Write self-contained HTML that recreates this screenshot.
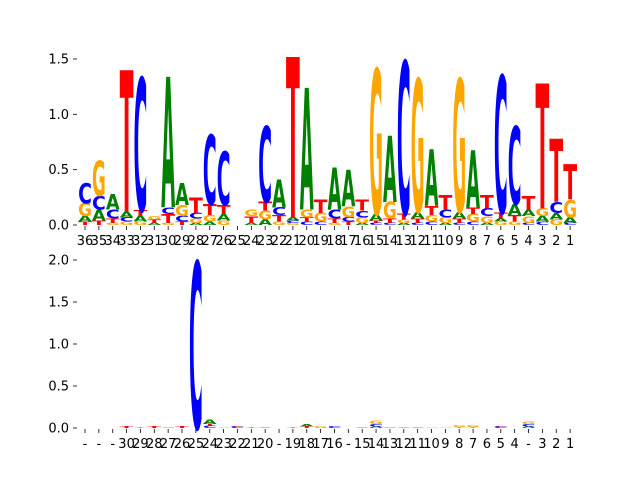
<!DOCTYPE html>
<html><head><meta charset="utf-8"><style>
body{margin:0;background:#fff}
svg text{font-family:"DejaVu Sans","Liberation Sans",sans-serif}
</style></head><body>
<svg id="chart" width="640" height="480" viewBox="0 0 640 480" xmlns="http://www.w3.org/2000/svg"></svg>
<script>
// positions 36..1 (left to right)
const topLabels = ["36","35","34","33","32","31","30","29","28","27","26","25","24","23","22","21","20","19","18","17","16","15","14","13","12","11","10","9","8","7","6","5","4","3","2","1"];
const bottomLabels = ["-","-","-","30","29","28","27","26","25","24","23","22","21","20","-","19","18","17","16","-","15","14","13","12","11","10","9","8","7","6","5","4","-","3","2","1"];
// stacks bottom->top, [letter, bits]
const topStacks = [
 [["T",.03],["A",.05],["G",.12],["C",.18]],
 [["T",.04],["A",.1],["C",.12],["G",.32]],
 [["G",.02],["T",.04],["C",.08],["A",.14]],
 [["G",.03],["C",.04],["A",.05],["T",1.28]],
 [["G",.03],["A",.05],["T",.05],["C",1.2]],
 [["A",.02],["T",.03],["G",.03]],
 [["G",.02],["T",.08],["C",.06],["A",1.18]],
 [["T",.03],["C",.05],["G",.1],["A",.2]],
 [["A",.02],["G",.04],["C",.05],["T",.14]],
 [["A",.03],["G",.06],["T",.1],["C",.63]],
 [["G",.04],["A",.06],["T",.08],["C",.48]],
 [],
 [["A",.02],["T",.06],["G",.06]],
 [["A",.05],["G",.08],["T",.08],["C",.68]],
 [["G",.03],["T",.06],["C",.07],["A",.25]],
 [["G",.02],["C",.02],["A",.03],["T",1.45]],
 [["C",.03],["T",.04],["G",.07],["A",1.1]],
 [["C",.03],["G",.08],["T",.12]],
 [["G",.02],["T",.04],["C",.08],["A",.38]],
 [["T",.03],["C",.04],["G",.1],["A",.33]],
 [["A",.02],["G",.05],["C",.06],["T",.1]],
 [["C",.02],["T",.02],["A",.06],["G",1.31]],
 [["C",.02],["T",.04],["G",.15],["A",.6]],
 [["A",.02],["G",.03],["T",.05],["C",1.38]],
 [["C",.02],["T",.04],["A",.06],["G",1.2]],
 [["C",.03],["G",.06],["T",.08],["A",.51]],
 [["A",.02],["G",.05],["C",.07],["T",.13]],
 [["C",.02],["T",.04],["A",.06],["G",1.2]],
 [["C",.03],["G",.07],["T",.06],["A",.52]],
 [["A",.02],["G",.06],["C",.07],["T",.12]],
 [["G",.03],["A",.03],["T",.05],["C",1.24]],
 [["G",.03],["T",.06],["A",.1],["C",.7]],
 [["C",.02],["G",.06],["A",.06],["T",.12]],
 [["C",.03],["A",.05],["G",.07],["T",1.13]],
 [["G",.05],["A",.06],["C",.1],["T",.57]],
 [["C",.02],["A",.05],["G",.16],["T",.32]]
];
const bottomStacks = [
 [],[],[],
 [["T",.02]],[["T",.01]],[["T",.02]],[["C",.01]],[["T",.02]],
 [["C",1.98]],
 [["C",.03],["T",.02],["A",.05]],
 [["G",.01]],[["C",.02],["T",.01]],[["T",.01]],[["A",.01]],
 [],
 [["T",.01]],[["T",.02],["A",.03]],[["G",.02]],[["C",.02]],
 [],
 [["A",.01]],[["A",.02],["C",.03],["G",.04]],[["C",.01]],[["A",.01]],[["A",.01]],[["G",.01]],[["G",.01]],
 [["T",.01],["G",.02]],[["T",.01],["G",.02]],[],[["C",.02],["T",.01]],[],
 [["A",.02],["C",.03],["G",.03]],
 [],[],[]
];
const topTicks = [0,0.5,1.0,1.5];
const bottomTicks = [0.0,0.5,1.0,1.5,2.0];

const NS="http://www.w3.org/2000/svg";
const svg=document.getElementById('chart');
const colors={A:"#008000",C:"#0000ff",G:"#ffa500",T:"#ff0000"};
function mk(t,a){const e=document.createElementNS(NS,t);for(const k in a)e.setAttribute(k,a[k]);return e;}
const xPos=i=>85+i*13.86;
const colW=13.8;

function panel(name,stacks,labels,ticks,y0,pxPerUnit,tickFmt){
  const g=mk('g',{});
  
  
  svg.appendChild(g);
  const yS=v=>y0-v*pxPerUnit;
  stacks.forEach((st,i)=>{
    let acc=0;
    st.forEach(([l,h])=>{
      const hp=h*pxPerUnit;
      const yb=yS(acc);
      acc+=h;
      if(hp<0.3)return;
      const t=mk('text',{x:0,y:0,'font-size':100,'font-weight':'bold',fill:colors[l],textLength:100,lengthAdjust:'spacingAndGlyphs',
        transform:`translate(${xPos(i)-colW/2},${yb}) scale(${colW/100},${hp/73})`});
      t.textContent=l;
      
      
      g.appendChild(t);
    });
    g.appendChild(mk('line',{x1:xPos(i),x2:xPos(i),y1:y0+1,y2:y0+5,stroke:'#000','stroke-width':0.8}));
    const lb=mk('text',{x:xPos(i),y:y0+20,'font-size':13,'text-anchor':'middle',fill:'#000'});
    lb.textContent=labels[i];
    
    
    g.appendChild(lb);
  });
  ticks.forEach(v=>{
    g.appendChild(mk('line',{x1:73,x2:77,y1:yS(v),y2:yS(v),stroke:'#000','stroke-width':0.8}));
    const t=mk('text',{x:69,y:yS(v)+4.5,'font-size':13,'text-anchor':'end',fill:'#000'});
    t.textContent=tickFmt(v);
    
    
    g.appendChild(t);
  });
}
panel('top-logo',topStacks,topLabels,topTicks,225,110.7,v=>v===0?"0.0":v.toFixed(1));
panel('bottom-logo',bottomStacks,bottomLabels,bottomTicks,428,84,v=>v.toFixed(1));
</script>
</body></html>
